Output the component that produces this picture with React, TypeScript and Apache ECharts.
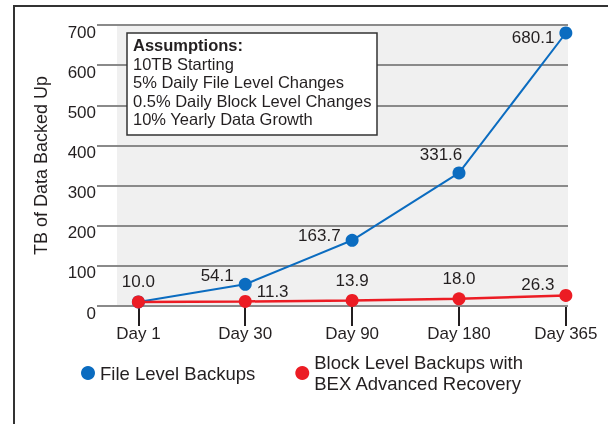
import React, { useEffect, useRef } from "react";
import * as echarts from "echarts";

const days = ["Day 1", "Day 30", "Day 90", "Day 180", "Day 365"];
const fileLevel = [10.0, 54.1, 163.7, 331.6, 680.1];
const blockLevel = [10.0, 11.3, 13.9, 18.0, 26.3];
const yTicks = [0, 100, 200, 300, 400, 500, 600, 700];
const seriesNames = ["File Level Backups", "Block Level Backups with BEX Advanced Recovery"];
const assumptionTitle = "Assumptions:";
const assumptionLines = [
  "10TB Starting",
  "5% Daily File Level Changes",
  "0.5% Daily Block Level Changes",
  "10% Yearly Data Growth",
];

const FONT = "'Liberation Sans', Arial, Helvetica, sans-serif";
const TXT = "#231f20";
const BLUE = "#0b6cc0";
const RED = "#ec1c24";
const GRID = "#8a8a8a";

// label placement styles (not data)
const fileLabelStyle: any[] = [
  { show: false },
  { position: "left", offset: [0, -9] },
  { position: "left", offset: [0, -5] },
  { position: "top", offset: [-18, 0], distance: 3 },
  { position: "left", offset: [0, 5] },
];
const blockLabelStyle: any[] = [
  { position: "top" },
  { position: "right", offset: [0, -10] },
  { position: "top" },
  { position: "top" },
  { position: "left", offset: [0, -11] },
];

export default function App() {
  const ref = useRef<HTMLDivElement>(null);
  useEffect(() => {
    if (!ref.current) return;
    const chart = echarts.init(ref.current, null, { renderer: "svg" });
    const idx = days.map((_, i) => i);
    const yMin = yTicks[0];
    const yMax = yTicks[yTicks.length - 1];
    const mk = (vals: number[], styles: any[]) =>
      vals.map((v, i) => ({
        value: [i, v],
        label: { show: true, ...styles[i] },
      }));
    chart.setOption({
      animation: false,
      textStyle: { fontFamily: FONT },
      grid: [
        {
          left: 117,
          right: 40,
          top: 25,
          bottom: 118,
          show: true,
          backgroundColor: "#f0f0f0",
          borderWidth: 0,
        },
        {
          left: 97,
          right: 40,
          top: 25,
          bottom: 118,
          show: false,
        },
      ],
      xAxis: [
        {
          gridIndex: 0,
          type: "value",
          min: -0.2,
          max: 4.02,
          axisLine: { show: false },
          splitLine: { show: false },
          axisTick: {
            show: true,
            inside: false,
            customValues: idx,
            length: 20,
            lineStyle: { color: TXT, width: 2 },
          },
          axisLabel: {
            customValues: idx,
            formatter: (v: number) => days[Math.round(v)],
            margin: 19,
            color: TXT,
            fontSize: 17,
            fontFamily: FONT,
          },
        },
        {
          gridIndex: 1,
          type: "value",
          min: 0,
          max: 1,
          show: false,
        },
      ],
      yAxis: [
        {
          gridIndex: 0,
          type: "value",
          min: yMin,
          max: yMax,
          interval: 100,
          axisLine: { show: false },
          axisTick: { show: false },
          axisLabel: { show: false },
          splitLine: { show: false },
        },
        {
          gridIndex: 1,
          type: "value",
          z: 2,
          min: yMin,
          max: yMax,
          interval: 100,
          name: "TB of Data Backed Up",
          nameLocation: "middle",
          nameGap: 47,
          nameRotate: 90,
          nameTextStyle: { color: TXT, fontSize: 18, fontFamily: FONT },
          axisLine: { show: false },
          axisTick: { show: false },
          splitLine: { show: true, lineStyle: { color: GRID, width: 2 } },
          axisLabel: {
            margin: 1,
            color: TXT,
            fontSize: 17,
            fontFamily: FONT,
            verticalAlign: "top",
            lineHeight: 14,
          },
        },
      ],
      legend: {
        left: 81,
        top: 342,
        padding: 0,
        icon: "circle",
        itemWidth: 14,
        itemHeight: 14,
        itemGap: 40,
        textStyle: { color: TXT, fontSize: 18.5, fontFamily: FONT, lineHeight: 21 },
        formatter: (name: string) =>
          name === seriesNames[1] ? "Block Level Backups with\nBEX Advanced Recovery" : name,
        data: [
          { name: seriesNames[0] },
          { name: seriesNames[1], textStyle: { padding: [20, 0, 0, 0] } },
        ],
      },
      series: [
        {
          name: seriesNames[0],
          type: "line",
          xAxisIndex: 0,
          yAxisIndex: 0,
          data: mk(fileLevel, fileLabelStyle),
          symbol: "circle",
          symbolSize: 13,
          lineStyle: { color: BLUE, width: 2 },
          itemStyle: { color: BLUE },
          label: { color: TXT, fontSize: 17, fontFamily: FONT, formatter: (p: any) => p.value[1].toFixed(1) },
          z: 3,
        },
        {
          name: seriesNames[1],
          type: "line",
          xAxisIndex: 0,
          yAxisIndex: 0,
          data: mk(blockLevel, blockLabelStyle),
          symbol: "circle",
          symbolSize: 13,
          lineStyle: { color: RED, width: 2.5 },
          itemStyle: { color: RED },
          label: { color: TXT, fontSize: 17, fontFamily: FONT, formatter: (p: any) => p.value[1].toFixed(1) },
          z: 4,
        },
      ],
      graphic: [
        {
          type: "rect",
          z: 1,
          shape: { x: 14, y: 6, width: 700, height: 600 },
          style: { fill: "none", stroke: "#333", lineWidth: 2 },
        },
        {
          type: "rect",
          z: 50,
          shape: { x: 127, y: 33, width: 250, height: 102 },
          style: { fill: "#fff", stroke: "#333", lineWidth: 1.5 },
        },
        {
          type: "text",
          z: 51,
          x: 133,
          y: 36,
          style: {
            text: "{b|" + assumptionTitle + "}\n" + assumptionLines.join("\n"),
            fill: TXT,
            fontSize: 16.5,
            fontFamily: FONT,
            lineHeight: 18.5,
            rich: { b: { fontWeight: "bold", fontSize: 16.5, fontFamily: FONT, lineHeight: 18.5, fill: TXT } },
          },
        },
      ],
    });
    return () => chart.dispose();
  }, []);
  return <div ref={ref} style={{ position: "fixed", left: 0, top: 0, width: 608, height: 424 }} />;
}
